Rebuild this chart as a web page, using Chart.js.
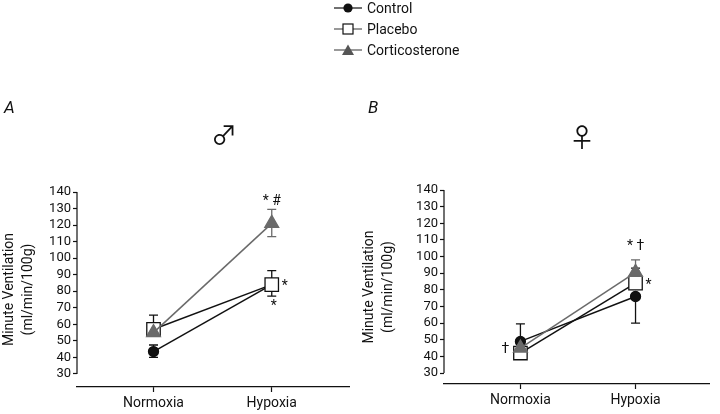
<!DOCTYPE html>
<html>
<head>
<meta charset="utf-8">
<script src="https://cdn.jsdelivr.net/npm/chart.js@4.4.1/dist/chart.umd.min.js"></script>
<style>
  body { margin: 0; background: #fff; font-family: Roboto, sans-serif; }
  #wrap { position: relative; width: 720px; height: 414px; overflow: hidden; }
  canvas { position: absolute; top: 0; }
  .txt { position: absolute; color: #111; line-height: 1; white-space: nowrap; }
  .sym { font-family: 'Noto Sans CJK JP', 'DejaVu Sans'; font-weight: 400; font-size: 26px; }
  .leg { position: absolute; left: 333px; height: 16px; display: flex; align-items: center; font-size: 14px; color: #111; }
  .leg svg { margin-right: 4px; }
</style>
</head>
<body>
<div id="wrap">
  <canvas id="chartA" width="360" height="414" style="left:0"></canvas>
  <canvas id="chartB" width="360" height="414" style="left:360px"></canvas>

  <div class="leg" style="top:0px">
    <svg width="30" height="14"><line x1="1" y1="7" x2="29" y2="7" stroke="#111" stroke-width="1.2"/><circle cx="15" cy="7" r="4.6" fill="#111"/></svg>Control
  </div>
  <div class="leg" style="top:21px">
    <svg width="30" height="14"><line x1="1" y1="7" x2="29" y2="7" stroke="#555" stroke-width="1.2"/><rect x="10" y="2" width="10" height="10" fill="#fff" stroke="#111" stroke-width="1.2"/></svg>Placebo
  </div>
  <div class="leg" style="top:42px">
    <svg width="30" height="14"><line x1="1" y1="7" x2="29" y2="7" stroke="#555" stroke-width="1.2"/><polygon points="15,1.5 21,12 9,12" fill="#555"/></svg>Corticosterone
  </div>

  <div class="txt" style="left:4px;top:99px;font-size:17px;font-style:italic">A</div>
  <div class="txt" style="left:368px;top:99px;font-size:17px;font-style:italic">B</div>
  <div class="txt sym" style="left:211px;top:121px">♂</div>
  <div class="txt sym" style="left:569px;top:123px">♀</div>
</div>

<script>
const conditions = ['Normoxia', 'Hypoxia'];
const yTicks = [30, 40, 50, 60, 70, 80, 90, 100, 110, 120, 130, 140];

// Panel A - males
const maleControl = [43.5, 84];
const maleControlHi = [47.5, 84];
const maleControlLo = [40, 77];
const malePlacebo = [57, 84];
const malePlaceboHi = [65.5, 92.5];
const malePlaceboLo = [57, 84];
const maleCort = [55, 121];
const maleCortHi = [55, 129.5];
const maleCortLo = [55, 113];

// Panel B - females
const femaleControl = [49, 76];
const femaleControlHi = [59.5, 76];
const femaleControlLo = [49, 60];
const femalePlacebo = [42, 84];
const femalePlaceboHi = [42, 93];
const femalePlaceboLo = [42, 84];
const femaleCort = [45, 90.5];
const femaleCortHi = [45, 98];
const femaleCortLo = [45, 90];

const INK = '#111';
const GREY = '#6a6a6a';

// significance marks: [text, condition index, value, pixel dx, colour]
const maleNotes = [['* #', 1, 134, 0, INK], ['*', 1, 83, 13, INK], ['*', 1, 70.5, 2, INK]];
const femaleNotes = [['†', 0, 44, -15, INK], ['* †', 1, 106, 0, INK], ['*', 1, 82.5, 13, INK]];

const errorBars = {
  id: 'errorBars',
  beforeDatasetsDraw(chart) {
    const { ctx, scales: { x, y } } = chart;
    ctx.save();
    chart.data.datasets.forEach(ds => {
      ds.data.forEach((p, i) => {
        const px = x.getPixelForValue(p.x);
        const py = y.getPixelForValue(p.y);
        [ds.errHi[i], ds.errLo[i]].forEach(e => {
          if (e === p.y) return;
          const ey = y.getPixelForValue(e);
          ctx.strokeStyle = ds.borderColor;
          ctx.lineWidth = 1.3;
          ctx.beginPath();
          ctx.moveTo(px, py); ctx.lineTo(px, ey);
          ctx.moveTo(px - 4.5, ey); ctx.lineTo(px + 4.5, ey);
          ctx.stroke();
        });
      });
    });
    ctx.restore();
  }
};

const axisLines = {
  id: 'axisLines',
  afterDraw(chart) {
    const { ctx, chartArea, scales: { y } } = chart;
    ctx.save();
    ctx.strokeStyle = INK;
    ctx.lineWidth = 1.2;
    ctx.beginPath();
    ctx.moveTo(chartArea.left, y.getPixelForValue(yTicks[0]));
    ctx.lineTo(chartArea.left, y.getPixelForValue(yTicks[yTicks.length - 1]));
    ctx.stroke();
    ctx.restore();
  }
};

const notesPlugin = {
  id: 'notes',
  afterDatasetsDraw(chart, args, opts) {
    const { ctx, scales: { x, y } } = chart;
    ctx.save();
    ctx.font = '14px Roboto';
    ctx.textAlign = 'center';
    ctx.textBaseline = 'middle';
    opts.items.forEach(([t, xi, v, dx, c]) => {
      ctx.fillStyle = c;
      ctx.fillText(t, x.getPixelForValue(xi) + dx, y.getPixelForValue(v));
    });
    ctx.restore();
  }
};

function series(label, vals, hi, lo, colour, lineColour, style, radius, fill, order) {
  return {
    label,
    data: vals.map((v, i) => ({ x: i, y: v })),
    errHi: hi, errLo: lo,
    borderColor: lineColour,
    borderWidth: 1.5,
    pointStyle: style,
    pointRadius: radius,
    pointBackgroundColor: fill,
    pointBorderColor: colour,
    pointBorderWidth: 1.3,
    order
  };
}

function makeChart(id, sets, geo, notes) {
  new Chart(document.getElementById(id), {
    type: 'line',
    data: { datasets: sets },
    plugins: [errorBars, axisLines, notesPlugin],
    options: {
      responsive: false,
      animation: false,
      layout: { padding: { left: 0, top: geo.top, right: geo.right, bottom: geo.bottom } },
      plugins: { legend: { display: false }, tooltip: { enabled: false }, notes: { items: notes } },
      scales: {
        x: {
          type: 'linear', min: geo.xMin, max: geo.xMax,
          afterBuildTicks: s => { s.ticks = conditions.map((c, i) => ({ value: i })); },
          afterFit: s => { s.height = 27; },
          ticks: { callback: v => conditions[v], color: INK, font: { family: 'Roboto', size: 14 }, padding: 3, maxRotation: 0, autoSkip: false },
          grid: { drawOnChartArea: false, color: INK, tickLength: 5, tickWidth: 1.2 },
          border: { display: true, color: INK, width: 1.2 }
        },
        y: {
          min: geo.yMin, max: 140,
          afterBuildTicks: s => { s.ticks = yTicks.map(v => ({ value: v })); },
          afterFit: s => { s.width = geo.left; },
          ticks: { color: INK, font: { family: 'Roboto', size: 13 }, padding: 2, autoSkip: false },
          grid: { drawOnChartArea: false, color: INK, tickLength: 4, tickWidth: 1.2 },
          border: { display: false },
          title: {
            display: true, text: ['Minute Ventilation', '(ml/min/100g)'],
            color: INK, font: { family: 'Roboto', size: 14, lineHeight: 1.35 }, padding: { top: 0, bottom: 0 }
          }
        }
      }
    }
  });
}

makeChart('chartA', [
  series('Control', maleControl, maleControlHi, maleControlLo, INK, INK, 'circle', 5, INK, 3),
  series('Placebo', malePlacebo, malePlaceboHi, malePlaceboLo, INK, INK, 'rect', 9.5, '#fff', 2),
  series('Corticosterone', maleCort, maleCortHi, maleCortLo, GREY, GREY, 'triangle', 8, GREY, 1)
], { left: 77, top: 192, right: 8, bottom: 0, yMin: 22.1, xMin: -0.647, xMax: 1.655 }, maleNotes);

makeChart('chartB', [
  series('Control', femaleControl, femaleControlHi, femaleControlLo, INK, INK, 'circle', 5, INK, 3),
  series('Placebo', femalePlacebo, femalePlaceboHi, femalePlaceboLo, INK, INK, 'rect', 9.5, '#fff', 2),
  series('Corticosterone', femaleCort, femaleCortHi, femaleCortLo, GREY, GREY, 'triangle', 8, GREY, 1)
], { left: 84, top: 190, right: 2, bottom: 3, yMin: 23.4, xMin: -0.664, xMax: 1.64 }, femaleNotes);
</script>
</body>
</html>
